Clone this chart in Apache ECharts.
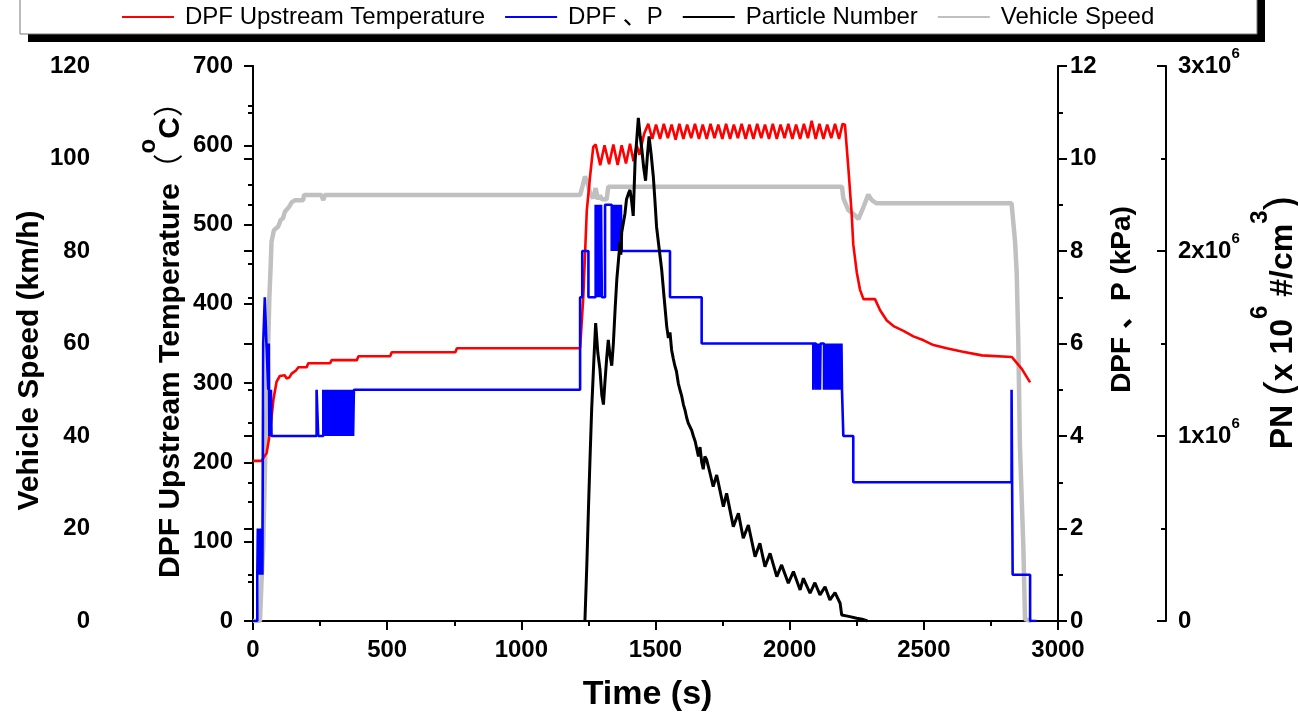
<!DOCTYPE html>
<html lang="en">
<head>
    <meta charset="UTF-8">
    <title>index</title>
    <script src="https://cdn.jsdelivr.net/npm/echarts@6/dist/echarts.min.js"></script>
    <style>
        html, body { margin: 0; padding: 0; background: #fff; }
        #chart { width: 1298px; height: 718px; }
    </style>
</head>
<body>
<div id="chart"></div>
<script>
    // names
    var nameTemp = 'DPF Upstream Temperature';
    var nameDp = 'DPF 、P';
    var namePn = 'Particle Number';
    var nameSpeed = 'Vehicle Speed';

    // time axis ticks
    var timeTicks = [0, 500, 1000, 1500, 2000, 2500, 3000];

    // [time s, temperature C]
    var tempData = [
        [0,202],[32,202],[51,212],[63,237],[76,279],[88,302],[100,309],[107,311],[118,310],[125,306],
        [135,307],[144,312],[160,316],[166,316],[169,320],[200,320],[206,325],[287,325],[293,329],
        [387,329],[393,334],[511,334],[517,339],[754,339],[760,344],[1219,344],[1231,409],[1244,518],
        [1256,560],[1268,598],[1277,601],[1294,575],[1310,600],[1327,576],[1343,601],[1359,575],
        [1374,600],[1390,577],[1405,602],[1418,580],[1430,600],[1440,588],[1458,615],
        [1473,627],[1488,608],[1502,626],[1517,608],[1531,627],[1546,609],[1560,626],[1575,607],
        [1589,627],[1604,608],[1618,626],[1633,609],[1647,627],[1662,608],[1676,626],[1691,608],
        [1705,627],[1720,609],[1734,626],[1749,608],[1763,627],[1778,608],[1792,626],[1807,609],
        [1821,627],[1836,608],[1850,626],[1865,608],[1879,627],[1894,609],[1908,626],[1923,608],
        [1937,627],[1952,608],[1966,626],[1981,609],[1995,627],[2010,608],[2024,626],[2039,608],
        [2053,627],[2068,609],[2082,631],[2097,608],[2111,627],[2126,608],[2140,626],[2155,609],
        [2169,627],[2184,608],[2197,627],[2206,626],[2219,570],[2231,514],[2237,475],[2250,440],
        [2262,418],[2275,406],[2318,406],[2337,392],[2362,379],[2387,372],[2424,366],[2461,359],
        [2499,354],[2536,348],[2585,344],[2641,340],[2716,335],[2828,333],[2840,328],[2865,318],
        [2896,301]
    ];

    // [time s, DPF dP kPa] (value holds until next point)
    var dpData = [
        [0,0],[16,1],[18,2],[21,1],[24,2],[27,1],[30,2],[35,1],[38,6],[44,7],[50,6],[57,5],[59,6],
        [61,4],[63,5],[65,4],[67,5],[69,4],[237,5],[243,4],
        [262,5],[265,4],[268,5],[271,4],[274,5],[277,4],[280,5],[283,4],[286,5],[289,4],[292,5],
        [295,4],[298,5],[301,4],[304,5],[307,4],[310,5],[313,4],[316,5],[319,4],[322,5],[325,4],
        [328,5],[331,4],[334,5],[337,4],[340,5],[343,4],[346,5],[349,4],[352,5],[355,4],[358,5],
        [361,4],[364,5],[367,4],[370,5],[373,4],[376,5],
        [1219,7],[1227,8],[1250,7],[1277,9],[1279,7],[1281,9],[1283,7],[1285,9],[1287,7],[1293,9],
        [1295,7],[1297,9],[1300,7],[1312,9],[1337,8],[1339,9],[1341,8],[1343,9],[1345,8],[1347,9],
        [1349,8],[1351,9],[1353,8],[1355,9],[1357,8],[1359,9],[1361,8],[1363,9],[1365,8],[1367,9],
        [1369,8],[1371,9],[1374,8],[1554,7],[1672,6],
        [2088,5],[2090,6],[2098,5],[2100,6],[2107,5],[2109,6],[2113,5],[2115,6],[2128,5],[2130,6],
        [2135,5],[2137,6],[2139,5],[2141,6],[2143,5],[2145,6],[2147,5],[2149,6],[2151,5],[2153,6],
        [2155,5],[2157,6],[2159,5],[2161,6],[2163,5],[2165,6],[2167,5],[2169,6],[2171,5],[2173,6],
        [2175,5],[2177,6],[2179,5],[2181,6],[2183,5],[2185,6],[2187,5],[2189,6],[2191,5],[2193,6],
        [2195,5],[2200,4],[2237,3],[2827,5],[2831,1],[2896,0],[2920,0]
    ];

    // [time s, PN x10^6 #/cm3]
    var pnData = [
        [1237,0],[1244,0.3],[1250,0.6],[1256,0.88],[1262,1.14],[1270,1.4],[1277,1.61],[1285,1.45],
        [1293,1.36],[1300,1.22],[1306,1.17],[1312,1.3],[1318,1.42],[1324,1.52],[1330,1.44],[1337,1.38],
        [1343,1.5],[1350,1.7],[1356,1.85],[1362,1.95],[1368,2.05],[1371,1.98],[1374,2.1],[1380,2.15],
        [1386,2.2],[1392,2.28],[1399,2.31],[1405,2.33],[1411,2.27],[1417,2.19],[1424,2.49],[1430,2.6],
        [1436,2.72],[1443,2.62],[1449,2.55],[1456,2.45],[1463,2.38],[1470,2.52],[1476,2.62],[1484,2.52],
        [1492,2.4],[1498,2.27],[1504,2.13],[1513,2.02],[1523,1.9],[1532,1.75],[1542,1.59],[1548,1.53],
        [1554,1.56],[1560,1.465],[1566,1.42],[1572,1.38],[1578,1.35],[1585,1.285],[1591,1.25],
        [1597,1.22],[1604,1.17],[1610,1.14],[1616,1.1],[1622,1.07],[1629,1.06],[1635,1.03],[1641,1.0],
        [1648,0.97],[1654,0.93],[1660,0.89],[1666,0.94],[1672,0.86],[1678,0.82],[1684,0.89],
        [1691,0.87],[1703,0.8],[1715,0.726],[1728,0.789],[1753,0.618],[1765,0.69],[1790,0.51],
        [1809,0.582],[1827,0.447],[1846,0.519],[1871,0.348],[1889,0.42],[1908,0.294],[1927,0.366],
        [1952,0.24],[1970,0.303],[1995,0.204],[2014,0.267],[2039,0.168],[2051,0.231],[2076,0.15],
        [2094,0.207],[2113,0.141],[2132,0.185],[2150,0.114],[2169,0.153],[2188,0.096],[2194,0.032],
        [2220,0.025],[2250,0.015],[2270,0.01],[2290,0]
    ];

    // [time s, speed km/h]
    var speedData = [
        [0,0],[26,0],[32,9],[38,16],[45,34],[53,52],[61,70],[66,77],[69,82],[78,84.5],[94,85.3],
        [103,86.7],[112,87.1],[119,88.5],[135,89.6],[144,90.5],[157,91],[187,91],[190,92.1],[255,92.1],
        [262,91],[268,92.1],[1219,92.1],[1228,94],[1237,96.1],[1246,95],[1256,92.5],[1268,91.4],
        [1277,93.6],[1285,91.2],[1293,92],[1300,91.2],[1318,91.2],[1324,93.9],[2195,93.9],[2200,91.4],
        [2219,88.8],[2244,87.7],[2256,86.9],[2275,89.5],[2293,92.2],[2306,91],[2324,90.3],[2827,90.3],
        [2840,82],[2846,75.4],[2852,60.5],[2858,38.1],[2871,15.7],[2877,0.4],[2900,0]
    ];

    var FONT = 'Arial, "Liberation Sans", "Noto Sans CJK SC", sans-serif';

    var my_Chart = echarts.init(document.getElementById('chart'));

    function tickStyle(inside) {
        return {
            axisLine: { show: true, lineStyle: { color: '#000', width: 2 } },
            axisTick: { show: true, inside: inside, length: 9, lineStyle: { color: '#000', width: 2 } },
            minorTick: { show: true, splitNumber: 2, length: 5, lineStyle: { color: '#000', width: 2 } },
            splitLine: { show: false }
        };
    }
    var labelStyle = { color: '#000', fontFamily: FONT, fontWeight: 'bold', fontSize: 24 };
    var titleStyle = { color: '#000', fontFamily: FONT, fontWeight: 'bold', fontSize: 30 };

    // superscript: small token pinned to top of a tall line
    var supStyle = { fontFamily: FONT, fontSize: 24, fontWeight: 'bold', color: '#000', lineHeight: 24, verticalAlign: 'top' };

    var option = {
        animation: false,
        backgroundColor: '#fff',
        graphic: [
            { type: 'rect', z: 0, shape: { x: 28, y: -10, width: 1237, height: 52 }, style: { fill: '#000' } },
            { type: 'rect', z: 1, shape: { x: 20, y: -10, width: 1237, height: 44 }, style: { fill: '#fff', stroke: '#777', lineWidth: 1 } }
        ],
        legend: {
            left: 121,
            top: 5,
            padding: 0,
            z: 10,
            itemWidth: 52,
            itemHeight: 14,
            itemGap: 19,
            itemStyle: { opacity: 0 },
            textStyle: { fontFamily: FONT, fontSize: 24, color: '#000', padding: [0, 0, 0, 6] },
            data: [nameTemp, nameDp, namePn, nameSpeed]
        },
        grid: { left: 253, right: 240, top: 66, bottom: 97, outerBoundsMode: 'none', containLabel: false },
        xAxis: [
            Object.assign({
                type: 'value', min: 0, max: 3000, interval: 500, position: 'bottom',
                name: 'Time (s)', nameLocation: 'middle', nameGap: 57, nameMoveOverlap: false,
                nameTextStyle: Object.assign({}, titleStyle, { fontSize: 34, padding: [0, 16, 0, 0] }),
                axisLabel: Object.assign({ margin: 17, formatter: function (v) { return timeTicks.indexOf(v) >= 0 ? String(v) : ''; } }, labelStyle)
            }, tickStyle(false)),
            {
                type: 'value', min: 0, max: 3000, interval: 250, position: 'top',
                axisLine: { show: true, lineStyle: { color: '#000', width: 2 } },
                axisTick: { show: true, inside: true, length: 5, lineStyle: { color: '#000', width: 2 } },
                axisLabel: { show: false }, splitLine: { show: false }
            }
        ],
        yAxis: [
            Object.assign({
                type: 'value', min: 0, max: 700, interval: 100, position: 'left',
                name: nameTemp + '{p|（}{sup|o}C{p|）}', nameLocation: 'middle', nameRotate: 90, nameGap: 47,
                nameMoveOverlap: false,
                nameTextStyle: Object.assign({}, titleStyle, {
                    lineHeight: 70,
                    padding: [0, 0, 0, 22],
                    rich: {
                        p: { fontFamily: FONT, fontSize: 30, fontWeight: 'normal', color: '#000' },
                        sup: supStyle
                    }
                }),
                axisLabel: Object.assign({ margin: 20 }, labelStyle)
            }, tickStyle(false)),
            Object.assign({
                type: 'value', min: 0, max: 120, interval: 20, position: 'left', offset: 146,
                name: 'Vehicle Speed (km/h)', nameLocation: 'middle', nameRotate: 90, nameGap: 62,
                nameMoveOverlap: false,
                nameTextStyle: Object.assign({}, titleStyle, { padding: [0, 34, 0, 0] }),
                axisLabel: Object.assign({ margin: 17 }, labelStyle)
            }, tickStyle(false)),
            Object.assign({
                type: 'value', min: 0, max: 12, interval: 2, position: 'right',
                name: 'DPF 、P (kPa)', nameLocation: 'middle', nameRotate: 90, nameGap: 50,
                nameMoveOverlap: false,
                nameTextStyle: Object.assign({}, titleStyle, { fontSize: 28, padding: [0, 0, 0, 88] }),
                axisLabel: Object.assign({ margin: 12 }, labelStyle)
            }, tickStyle(false)),
            Object.assign({
                type: 'value', min: 0, max: 3, interval: 1, position: 'right', offset: 108,
                name: 'PN {p|(}x 10{sup|6} #/cm{sup|3}{p|)}', nameLocation: 'middle', nameRotate: 90, nameGap: 82,
                nameMoveOverlap: false,
                nameTextStyle: Object.assign({}, titleStyle, {
                    fontSize: 32,
                    lineHeight: 70,
                    padding: [0, 0, 0, 42],
                    rich: {
                        p: { fontFamily: FONT, fontSize: 44, fontWeight: 'normal', color: '#000' },
                        sup: supStyle
                    }
                }),
                axisLabel: Object.assign({
                    margin: 12,
                    lineHeight: 40,
                    formatter: function (v) { return v === 0 ? '0' : v + 'x10{sup|6}'; },
                    rich: { sup: { fontFamily: FONT, fontSize: 15, fontWeight: 'bold', color: '#000', lineHeight: 15, verticalAlign: 'top' } }
                }, labelStyle)
            }, tickStyle(true))
        ],
        series: [
            {
                name: nameSpeed, type: 'line', yAxisIndex: 1, symbol: 'none', z: 2,
                lineStyle: { color: '#c0c0c0', width: 4.5 }, itemStyle: { color: '#c0c0c0' },
                data: speedData
            },
            {
                name: nameTemp, type: 'line', yAxisIndex: 0, symbol: 'none', z: 3,
                lineStyle: { color: '#ff0000', width: 2.6 }, itemStyle: { color: '#ff0000' },
                data: tempData
            },
            {
                name: nameDp, type: 'line', yAxisIndex: 2, symbol: 'none', step: 'end', z: 4,
                lineStyle: { color: '#0000ff', width: 2.6 }, itemStyle: { color: '#0000ff' },
                data: dpData
            },
            {
                name: namePn, type: 'line', yAxisIndex: 3, symbol: 'none', z: 5,
                lineStyle: { color: '#000', width: 3 }, itemStyle: { color: '#000' },
                data: pnData
            }
        ]
    };
    my_Chart.setOption(option);
</script>
</body>
</html>
